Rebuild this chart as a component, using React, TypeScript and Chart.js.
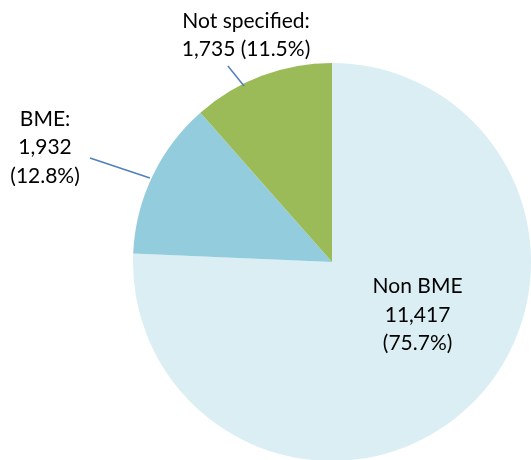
import React, { useEffect, useRef } from "react";
import { Chart, registerables } from "chart.js";

Chart.register(...registerables);

const categories = ["Non BME", "BME", "Not specified"];
const counts = [11417, 1932, 1735];
const percents = ["75.7%", "12.8%", "11.5%"];
const colors = ["#DAEEF3", "#93CDDD", "#9BBB59"];

// label text lines for each slice
const labelLines = [
  ["Non BME", "11,417", "(75.7%)"],
  ["BME:", "1,932", "(12.8%)"],
  ["Not specified:", "1,735 (11.5%)"],
];

// label centre offsets from the pie centre, in units of the radius
const labelPos = [
  [0.43, 0.266],
  [-1.442, -0.575],
  [-0.432, -1.14],
];

// leader lines: [inner x, inner y, outer x, outer y], radius units (null = none)
const leaders: (number[] | null)[] = [
  null,
  [-0.915, -0.422, -1.216, -0.523],
  [-0.442, -0.884, -0.523, -0.985],
];

const labelPlugin = {
  id: "sliceLabels",
  afterDraw(chart: any) {
    const meta = chart.getDatasetMeta(0);
    const arc = meta.data[0];
    if (!arc) return;
    const cx = arc.x;
    const cy = arc.y;
    const r = arc.outerRadius;
    const ctx = chart.ctx;
    ctx.save();
    ctx.strokeStyle = "#4F81BD";
    ctx.lineWidth = 1.5;
    leaders.forEach((l) => {
      if (!l) return;
      ctx.beginPath();
      ctx.moveTo(cx + l[0] * r, cy + l[1] * r);
      ctx.lineTo(cx + l[2] * r, cy + l[3] * r);
      ctx.stroke();
    });
    ctx.fillStyle = "#000000";
    ctx.font = "21px Lato, 'Open Sans', sans-serif";
    ctx.textAlign = "center";
    ctx.textBaseline = "middle";
    const lh = 28.5;
    labelLines.forEach((lines, i) => {
      const x = cx + labelPos[i][0] * r;
      const y = cy + labelPos[i][1] * r;
      const top = y - ((lines.length - 1) * lh) / 2;
      lines.forEach((t, j) => ctx.fillText(t, x, top + j * lh));
    });
    ctx.restore();
  },
};

export default function App() {
  const ref = useRef<HTMLCanvasElement>(null);
  useEffect(() => {
    document.body.style.margin = "0";
    const chart = new Chart(ref.current!, {
      type: "pie",
      data: {
        labels: categories,
        datasets: [
          {
            data: counts,
            backgroundColor: colors,
            borderWidth: 0,
          },
        ],
      },
      options: {
        animation: false,
        responsive: false,
        maintainAspectRatio: false,
        layout: { padding: { left: 133, right: 0, top: 63, bottom: 1 } },
        plugins: {
          legend: { display: false },
          tooltip: { enabled: false },
        },
      },
      plugins: [labelPlugin],
    });
    return () => chart.destroy();
  }, []);
  return (
    <div style={{ width: 531, height: 460, overflow: "hidden", position: "relative" }}>
      <canvas ref={ref} width={531} height={462} style={{ display: "block" }} />
    </div>
  );
}
